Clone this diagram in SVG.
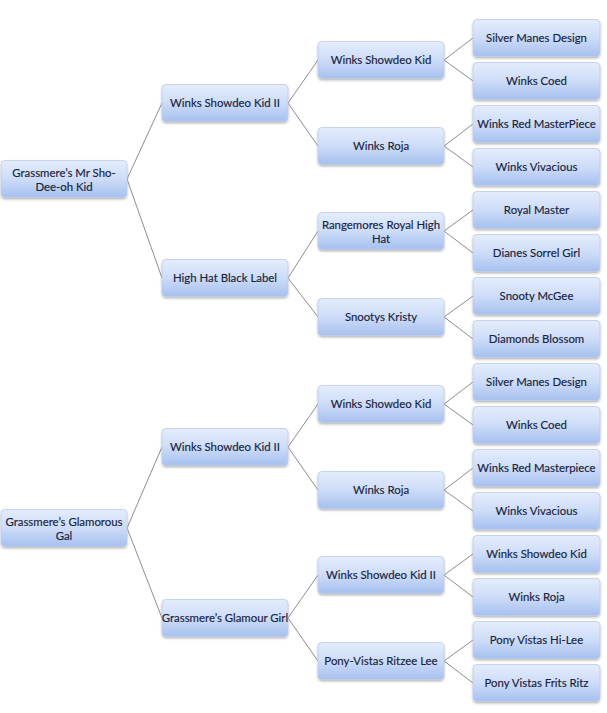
<svg xmlns="http://www.w3.org/2000/svg" width="607" height="713" viewBox="0 0 607 713">
<defs>
<linearGradient id="g" x1="0" y1="0" x2="0" y2="1">
<stop offset="0" stop-color="#e4edfc"/>
<stop offset="0.5" stop-color="#cddcf8"/>
<stop offset="1" stop-color="#a6c0ef"/>
</linearGradient>
<filter id="sh" x="-10%" y="-20%" width="120%" height="150%">
<feDropShadow dx="0" dy="1.5" stdDeviation="1" flood-color="#000" flood-opacity="0.28"/>
</filter>
<style>
.n rect{fill:url(#g);stroke:#bccbe4;stroke-width:0.8;filter:url(#sh)}
.n text{font-family:Lato,"Liberation Sans",sans-serif;font-size:11.4px;fill:#17223c;text-anchor:middle;stroke:#17223c;stroke-width:0.15}
.c line{stroke:#8e8e8e;stroke-width:1}
</style>
</defs>
<rect width="607" height="713" fill="#ffffff"/>
<g class="c" id="connectors">
<line x1="127" y1="179" x2="162" y2="103"/>
<line x1="127" y1="179" x2="162" y2="278"/>
<line x1="288" y1="103" x2="318" y2="60"/>
<line x1="288" y1="103" x2="318" y2="146"/>
<line x1="288" y1="278" x2="318" y2="231"/>
<line x1="288" y1="278" x2="318" y2="317"/>
<line x1="444" y1="60" x2="473" y2="38"/>
<line x1="444" y1="60" x2="473" y2="81"/>
<line x1="444" y1="146" x2="473" y2="124"/>
<line x1="444" y1="146" x2="473" y2="167"/>
<line x1="444" y1="231" x2="473" y2="210"/>
<line x1="444" y1="231" x2="473" y2="253"/>
<line x1="444" y1="317" x2="473" y2="296"/>
<line x1="444" y1="317" x2="473" y2="339"/>
<line x1="127" y1="528" x2="162" y2="447"/>
<line x1="127" y1="528" x2="162" y2="618"/>
<line x1="288" y1="447" x2="318" y2="404"/>
<line x1="288" y1="447" x2="318" y2="490"/>
<line x1="288" y1="618" x2="318" y2="575"/>
<line x1="288" y1="618" x2="318" y2="661"/>
<line x1="444" y1="404" x2="473" y2="382"/>
<line x1="444" y1="404" x2="473" y2="425"/>
<line x1="444" y1="490" x2="473" y2="468"/>
<line x1="444" y1="490" x2="473" y2="511"/>
<line x1="444" y1="575" x2="473" y2="554"/>
<line x1="444" y1="575" x2="473" y2="597"/>
<line x1="444" y1="661" x2="473" y2="640"/>
<line x1="444" y1="661" x2="473" y2="683"/>
</g>
<g class="n" id="root1"><rect x="1" y="160.5" width="126" height="37" rx="4"/><text x="64" y="177">Grassmere’s Mr Sho-</text><text x="64" y="191">Dee-oh Kid</text></g>
<g class="n" id="s1"><rect x="162" y="84.5" width="126" height="37" rx="4"/><text x="225" y="107">Winks Showdeo Kid II</text></g>
<g class="n" id="d1"><rect x="162" y="259.5" width="126" height="37" rx="4"/><text x="225" y="282">High Hat Black Label</text></g>
<g class="n" id="ss1"><rect x="318" y="41.5" width="126" height="37" rx="4"/><text x="381" y="64">Winks Showdeo Kid</text></g>
<g class="n" id="sd1"><rect x="318" y="127.5" width="126" height="37" rx="4"/><text x="381" y="150">Winks Roja</text></g>
<g class="n" id="ds1"><rect x="318" y="212.5" width="126" height="37" rx="4"/><text x="381" y="229">Rangemores Royal High</text><text x="381" y="243">Hat</text></g>
<g class="n" id="dd1"><rect x="318" y="298.5" width="126" height="37" rx="4"/><text x="381" y="321">Snootys Kristy</text></g>
<g class="n" id="a1"><rect x="473" y="19.5" width="127" height="37" rx="4"/><text x="536.5" y="42">Silver Manes Design</text></g>
<g class="n" id="a2"><rect x="473" y="62.5" width="127" height="37" rx="4"/><text x="536.5" y="85">Winks Coed</text></g>
<g class="n" id="a3"><rect x="473" y="105.5" width="127" height="37" rx="4"/><text x="536.5" y="128">Winks Red MasterPiece</text></g>
<g class="n" id="a4"><rect x="473" y="148.5" width="127" height="37" rx="4"/><text x="536.5" y="171">Winks Vivacious</text></g>
<g class="n" id="a5"><rect x="473" y="191.5" width="127" height="37" rx="4"/><text x="536.5" y="214">Royal Master</text></g>
<g class="n" id="a6"><rect x="473" y="234.5" width="127" height="37" rx="4"/><text x="536.5" y="257">Dianes Sorrel Girl</text></g>
<g class="n" id="a7"><rect x="473" y="277.5" width="127" height="37" rx="4"/><text x="536.5" y="300">Snooty McGee</text></g>
<g class="n" id="a8"><rect x="473" y="320.5" width="127" height="37" rx="4"/><text x="536.5" y="343">Diamonds Blossom</text></g>
<g class="n" id="root2"><rect x="1" y="509.5" width="126" height="37" rx="4"/><text x="64" y="526">Grassmere’s Glamorous</text><text x="64" y="540">Gal</text></g>
<g class="n" id="s2"><rect x="162" y="428.5" width="126" height="37" rx="4"/><text x="225" y="451">Winks Showdeo Kid II</text></g>
<g class="n" id="d2"><rect x="162" y="599.5" width="126" height="37" rx="4"/><text x="225" y="622">Grassmere’s Glamour Girl</text></g>
<g class="n" id="ss2"><rect x="318" y="385.5" width="126" height="37" rx="4"/><text x="381" y="408">Winks Showdeo Kid</text></g>
<g class="n" id="sd2"><rect x="318" y="471.5" width="126" height="37" rx="4"/><text x="381" y="494">Winks Roja</text></g>
<g class="n" id="ds2"><rect x="318" y="556.5" width="126" height="37" rx="4"/><text x="381" y="579">Winks Showdeo Kid II</text></g>
<g class="n" id="dd2"><rect x="318" y="642.5" width="126" height="37" rx="4"/><text x="381" y="665">Pony-Vistas Ritzee Lee</text></g>
<g class="n" id="b1"><rect x="473" y="363.5" width="127" height="37" rx="4"/><text x="536.5" y="386">Silver Manes Design</text></g>
<g class="n" id="b2"><rect x="473" y="406.5" width="127" height="37" rx="4"/><text x="536.5" y="429">Winks Coed</text></g>
<g class="n" id="b3"><rect x="473" y="449.5" width="127" height="37" rx="4"/><text x="536.5" y="472">Winks Red Masterpiece</text></g>
<g class="n" id="b4"><rect x="473" y="492.5" width="127" height="37" rx="4"/><text x="536.5" y="515">Winks Vivacious</text></g>
<g class="n" id="b5"><rect x="473" y="535.5" width="127" height="37" rx="4"/><text x="536.5" y="558">Winks Showdeo Kid</text></g>
<g class="n" id="b6"><rect x="473" y="578.5" width="127" height="37" rx="4"/><text x="536.5" y="601">Winks Roja</text></g>
<g class="n" id="b7"><rect x="473" y="621.5" width="127" height="37" rx="4"/><text x="536.5" y="644">Pony Vistas Hi-Lee</text></g>
<g class="n" id="b8"><rect x="473" y="664.5" width="127" height="37" rx="4"/><text x="536.5" y="687">Pony Vistas Frits Ritz</text></g>
</svg>
